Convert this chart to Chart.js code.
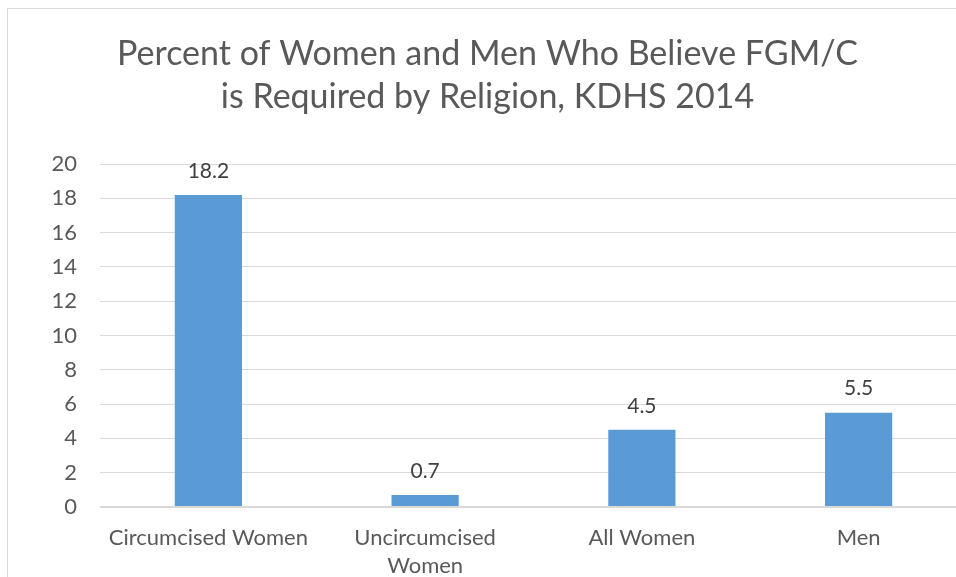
<!DOCTYPE html>
<html>
<head>
<meta charset="utf-8">
<script src="https://cdn.jsdelivr.net/npm/chart.js@4/dist/chart.umd.min.js"></script>
<style>
    html, body { margin: 0; padding: 0; background: #fff; overflow: hidden; }
    #frame {
        position: absolute; left: 7px; top: 8px;
        width: 962px; height: 620px;
        border: 1px solid #d9d9d9;
    }
</style>
</head>
<body>
<div id="frame"><canvas id="chart" width="962" height="620"></canvas></div>
<script>
const categories = ['Circumcised Women', 'Uncircumcised Women', 'All Women', 'Men'];
const tickLabels = ['Circumcised Women', ['Uncircumcised', 'Women'], 'All Women', 'Men'];
const values = [18.2, 0.7, 4.5, 5.5];
const yTicks = [0, 2, 4, 6, 8, 10, 12, 14, 16, 18, 20];

const FONT = 'Lato, "Open Sans", sans-serif';

// draws the value above each bar
const valueLabels = {
    id: 'valueLabels',
    afterDatasetsDraw(chart) {
        const ctx = chart.ctx;
        const meta = chart.getDatasetMeta(0);
        ctx.save();
        ctx.font = '21px ' + FONT;
        ctx.fillStyle = '#404040';
        ctx.textAlign = 'center';
        ctx.textBaseline = 'middle';
        meta.data.forEach((bar, i) => {
            ctx.fillText(values[i].toFixed(1), bar.x, bar.y - 24);
        });
        ctx.restore();
    }
};

new Chart(document.getElementById('chart'), {
    type: 'bar',
    data: {
        labels: categories,
        datasets: [{
            data: values,
            backgroundColor: '#5B9BD5',
            barPercentage: 1,
            categoryPercentage: 0.31
        }]
    },
    options: {
        responsive: false,
        animation: false,
        layout: { padding: { left: 0, right: 3, top: 0, bottom: 30 } },
        plugins: {
            legend: { display: false },
            tooltip: { enabled: false },
            title: {
                display: true,
                text: ['Percent of Women and Men Who Believe FGM/C', 'is Required by Religion, KDHS 2014'],
                color: '#595959',
                font: { family: FONT, size: 34, weight: 'normal', lineHeight: 1.265 },
                padding: { top: 24, bottom: 45 }
            }
        },
        scales: {
            x: {
                grid: { display: false, drawTicks: false },
                border: { display: false },
                ticks: {
                    color: '#595959',
                    font: { family: FONT, size: 22, lineHeight: 1.27 },
                    padding: 17,
                    maxRotation: 0,
                    autoSkip: false,
                    callback: (v, i) => tickLabels[i]
                },
                afterFit: (scale) => { scale.height = 92; }
            },
            y: {
                min: 0,
                max: 20,
                afterBuildTicks: (scale) => { scale.ticks = yTicks.map(v => ({ value: v })); },
                grid: {
                    color: '#d9d9d9',
                    lineWidth: (c) => c.tick && c.tick.value === 0 ? 2 : 1,
                    drawTicks: false
                },
                border: { display: false },
                ticks: {
                    color: '#595959',
                    font: { family: FONT, size: 22 },
                    padding: 23
                },
                afterFit: (scale) => { scale.width = 92; }
            }
        }
    },
    plugins: [valueLabels]
});
</script>
</body>
</html>
